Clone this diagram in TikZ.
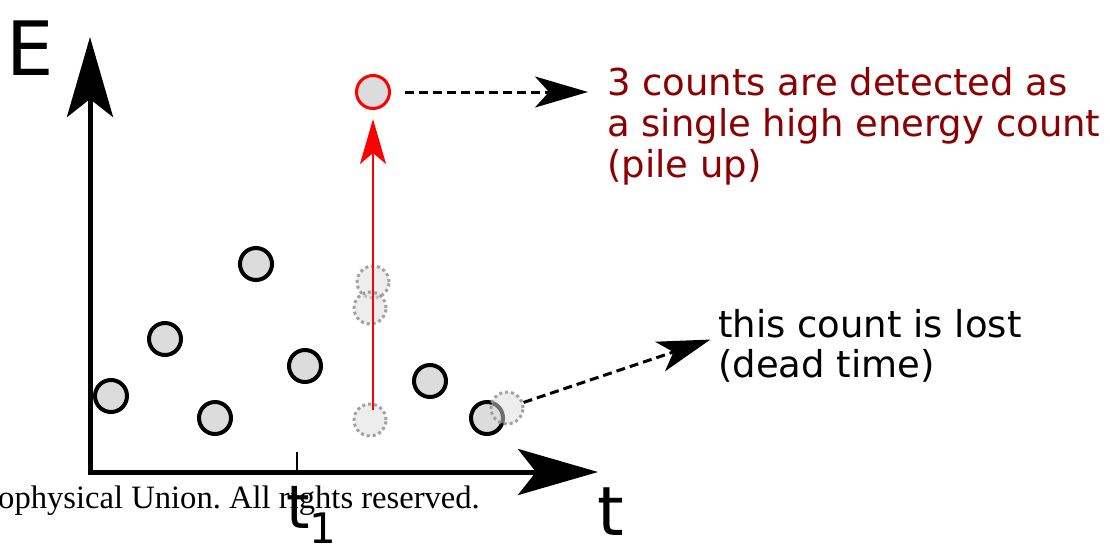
\documentclass[tikz,border=0pt]{standalone}
\usepackage{fontspec}
\setmainfont{DejaVu Sans}
\newfontfamily\creditfont{Liberation Serif}
\usetikzlibrary{arrows.meta}
\frenchspacing

\definecolor{countfill}{HTML}{DCDCDC}
\definecolor{lostline}{HTML}{999999}
\definecolor{notered}{HTML}{8B0000}

\tikzset{
  axis/.style={line width=5pt, {Stealth[length=80pt,width=46pt,inset=18pt]}-{Stealth[length=80pt,width=46pt,inset=18pt]}},
  count/.style={circle, draw=black, line width=4pt, fill=countfill, minimum size=32pt, inner sep=0pt},
  lostcount/.style={circle, draw=lostline, line width=3pt, dash pattern=on 3pt off 3pt,
    fill=countfill, fill opacity=.5, draw opacity=.9, minimum size=32pt, inner sep=0pt},
  pilecount/.style={circle, draw=red, line width=3pt, fill=countfill, minimum size=33pt, inner sep=0pt},
  pileup/.style={red, line width=2pt, -{Stealth[length=45pt,width=26pt,inset=11pt]}},
  lead/.style={line width=3pt, dash pattern=on 9pt off 5pt, -{Stealth[length=53pt,width=31pt,inset=14pt]}},
  note/.style={font=\fontsize{37}{44}\selectfont, anchor=base west, inner sep=0pt},
}

\begin{document}
\begin{tikzpicture}[x=1pt,y=-1pt]
  \useasboundingbox (0,0) rectangle (1110,544);

  % credit line under the time axis
  \node[font=\creditfont\fontsize{32.6}{36}\selectfont, anchor=base west, inner sep=0pt] (credit)
    at (-2,508) {ophysical Union. All rights reserved.};

  % axes
  \draw[axis] (90,37) -- (90,472) -- (598,472);
  \draw[line width=1.2pt] (297,472) -- (297,452);
  \node[font=\fontsize{75}{80}\selectfont, anchor=base west, inner sep=0pt] (elabel) at (6,75) {E};
  \node[font=\fontsize{68}{72}\selectfont, anchor=base west, inner sep=0pt] (tlabel) at (597,535) {t};
  \node[font=\fontsize{60}{64}\selectfont, anchor=base west, inner sep=0pt] (tone)
    at (286,528) {t\raisebox{-15pt}{\fontsize{42}{42}\selectfont 1}};

  % detected counts
  \foreach \x/\y [count=\i] in {111/396, 165/339, 215/418, 256/264, 305/366, 430/381, 487/418} {
    \node[count] (c\i) at (\x,\y) {}; }

  % counts that never reach the detector as such
  \foreach \x/\y [count=\i] in {373/282, 370/308, 370/420, 507/408} {
    \node[lostcount] (g\i) at (\x,\y) {}; }

  % pile up
  \node[pilecount] (pile) at (373,92) {};
  \draw[pileup, shorten <=10pt, shorten >=9pt] (pile |- g3) -- (pile);

  \node[note, text=notered] (note1) at (607,95) {3 counts are detected as};
  \node[note, text=notered] (note2) at (607,136) {a single high energy count};
  \node[note, text=notered] (note3) at (607,177) {(pile up)};
  \draw[lead, shorten <=14pt, shorten >=19pt] (pile) -- (pile -| note1.west);

  % dead time
  \node[note] (lost1) at (718,337) {this count is lost};
  \node[note] (lost2) at (718,377) {(dead time)};
  \draw[lead, shorten >=8pt] (g4) -- (lost1.base west);
\end{tikzpicture}
\end{document}
